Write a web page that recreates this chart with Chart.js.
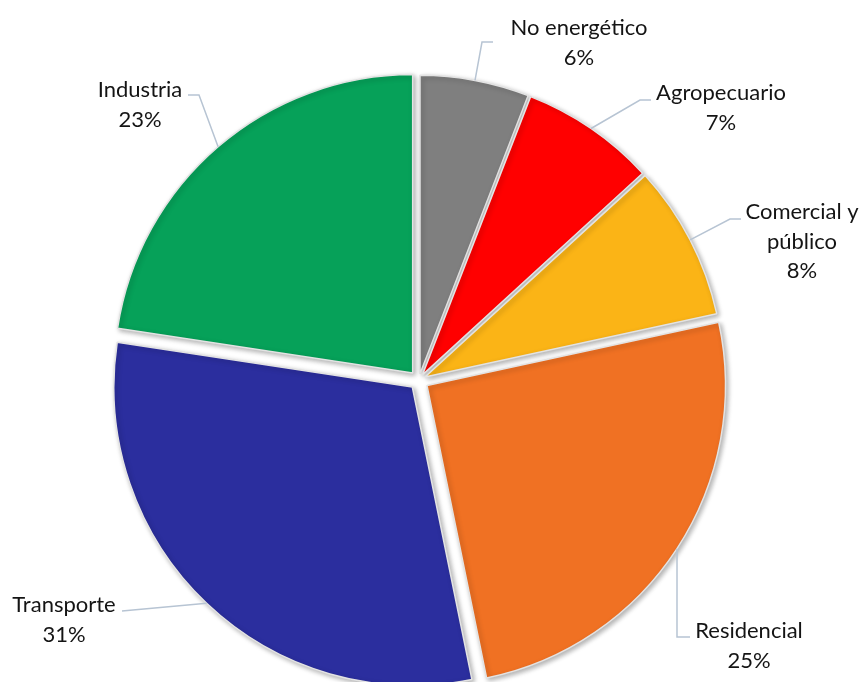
<!DOCTYPE html>
<html>
<head>
<meta charset="utf-8">
<script src="https://cdn.jsdelivr.net/npm/chart.js@4.4.0/dist/chart.umd.min.js"></script>
<style>
  html, body { margin: 0; padding: 0; background: #fff; }
  #wrap { width: 861px; height: 682px; }
</style>
</head>
<body>
<div id="wrap"><canvas id="piechart" width="861" height="682"></canvas></div>
<script>
const labels = ['No energético', 'Agropecuario', 'Comercial y público', 'Residencial', 'Transporte', 'Industria'];
const shares = [5.9, 7.3, 8.4, 25.2, 30.6, 22.6];
const colors = ['#7F7F7F', '#FF0000', '#FBB416', '#F07123', '#2B2E9E', '#06A159'];
const explode = [6.5, 6.5, 7, 9.8, 9.4, 9.4];

// label text lines, first baseline and leader elbow points (page layout, not data)
const labelLines = [['No energético'], ['Agropecuario'], ['Comercial y', 'público'], ['Residencial'], ['Transporte'], ['Industria']];
const labelPos = [[579, 35], [721, 100], [802, 219], [749, 638], [64, 612], [140, 97]];
const leaderPts = [
  [[482, 42], [493, 42]],
  [[640, 100], [651, 100]],
  [[730, 219], [741, 219]],
  [[677, 637], [690, 637]],
  [[122, 611]],
  [[199, 95], [188, 95]]
];

function shift(arc, i) {
  const mid = (arc.startAngle + arc.endAngle) / 2;
  return [Math.cos(mid) * explode[i], Math.sin(mid) * explode[i]];
}

// draw each slice with the library's arc element, moved out by its explosion
const explodePlugin = {
  id: 'explode',
  beforeDatasetDraw(chart, args) {
    const c = chart.ctx;
    const arcs = args.meta.data;
    c.save();
    c.shadowColor = 'rgba(0,0,0,0.3)';
    c.shadowBlur = 5;
    c.shadowOffsetX = 2;
    c.shadowOffsetY = 2;
    arcs.forEach((arc, i) => {
      const d = shift(arc, i);
      c.save();
      c.translate(d[0], d[1]);
      arc.draw(c, chart.chartArea);
      c.restore();
    });
    c.restore();
    return false;
  }
};

const labelPlugin = {
  id: 'outLabels',
  afterDatasetsDraw(chart) {
    const c = chart.ctx;
    const arcs = chart.getDatasetMeta(0).data;
    const total = shares.reduce((a, v) => a + v, 0);
    c.save();
    arcs.forEach((arc, i) => {
      const mid = (arc.startAngle + arc.endAngle) / 2;
      const d = shift(arc, i);
      const sx = arc.x + d[0] + Math.cos(mid) * arc.outerRadius;
      const sy = arc.y + d[1] + Math.sin(mid) * arc.outerRadius;
      c.beginPath();
      c.moveTo(sx, sy);
      leaderPts[i].forEach(p => c.lineTo(p[0], p[1]));
      c.strokeStyle = '#B7C4D3';
      c.lineWidth = 1.5;
      c.stroke();

      const lines = labelLines[i].concat([Math.round(shares[i] / total * 100) + '%']);
      c.fillStyle = '#141414';
      c.font = '22px Lato';
      c.textAlign = 'center';
      c.textBaseline = 'alphabetic';
      lines.forEach((t, k) => c.fillText(t, labelPos[i][0], labelPos[i][1] + k * 29.5));
    });
    c.restore();
  }
};

const ctx = document.getElementById('piechart');
new Chart(ctx, {
  type: 'pie',
  data: {
    labels: labels,
    datasets: [{
      data: shares,
      backgroundColor: colors,
      borderColor: '#E3E3E3',
      borderWidth: 1.5,
      hoverOffset: 0
    }]
  },
  options: {
    responsive: false,
    animation: false,
    radius: 298.5,
    layout: { padding: { left: 0, right: 23.4, top: 78.4, bottom: 0 } },
    plugins: {
      legend: { display: false },
      tooltip: { enabled: false }
    }
  },
  plugins: [explodePlugin, labelPlugin]
});
</script>
</body>
</html>
